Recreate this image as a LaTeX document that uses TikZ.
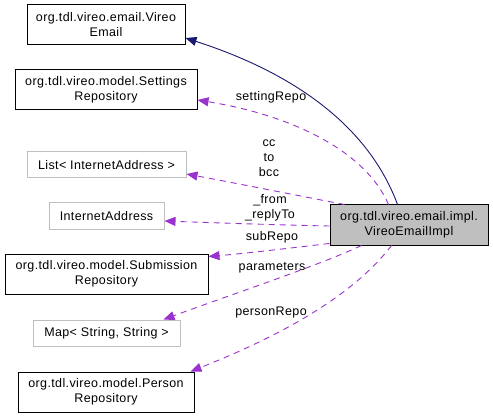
\documentclass[tikz,border=0pt]{standalone}
\usepackage{fontspec}
\setmainfont{Liberation Sans}[LetterSpace=3]
\usetikzlibrary{arrows.meta}
\definecolor{navyedge}{HTML}{191970}
\definecolor{purpleedge}{HTML}{9A32CD}
\definecolor{greyline}{HTML}{BFBFBF}
\begin{document}
\begin{tikzpicture}[x=1pt,y=-1pt,
  every node/.style={font=\fontsize{12.5}{15}\selectfont, inner sep=0pt, align=center},
  cls/.style={draw=black, line width=1pt, fill=white},
  ext/.style={draw=greyline, line width=1pt, fill=white},
  impl/.style={draw=black, line width=1pt, fill=greyline},
  inherit/.style={draw=navyedge, line width=0.9pt, -{Triangle[length=11pt,width=9pt]}, fill=none},
  use/.style={draw=purpleedge, line width=0.9pt, dash pattern=on 6pt off 5pt, -{Triangle[length=11pt,width=9pt,fill=purpleedge]}},
  lbl/.style={fill=none}]
\useasboundingbox (0,0) rectangle (493,417);

\node[cls, minimum width=158pt, minimum height=40pt] (vireo) at (106,25) {org.tdl.vireo.email.Vireo\\Email};
\node[cls, minimum width=182pt, minimum height=40pt] (settings) at (106,90) {org.tdl.vireo.model.Settings\\Repository};
\node[ext, minimum width=159pt, minimum height=26pt] (list) at (106.5,165) {List< InternetAddress >};
\node[ext, minimum width=115pt, minimum height=26pt] (inet) at (106.5,216) {InternetAddress};
\node[cls, minimum width=203pt, minimum height=40pt] (sub) at (106.5,274) {org.tdl.vireo.model.Submission\\Repository};
\node[ext, minimum width=147pt, minimum height=26pt] (map) at (106.5,333) {Map< String, String >};
\node[cls, minimum width=176pt, minimum height=40pt] (person) at (106,392) {org.tdl.vireo.model.Person\\Repository};
\node[impl, minimum width=158pt, minimum height=40pt] (impl) at (409,225) {org.tdl.vireo.email.impl.\\VireoEmailImpl};

\draw[inherit] ([xshift=68pt]impl.north west) .. controls (370,130) and (300,75) .. ([yshift=-13pt]vireo.east);
\draw[use] ([xshift=59pt]impl.north west) .. controls (365,150) and (290,115) .. ([yshift=-10pt]settings.east);
\draw[use] ([xshift=15pt]impl.north west) .. controls (300,196) and (240,184) .. ([yshift=-9pt]list.east);
\draw[use] ([yshift=-1pt]impl.west) .. controls (280,225) and (220,223) .. ([yshift=-5pt]inet.east);
\draw[use] ([yshift=2pt]impl.south west) .. controls (290,248) and (250,253) .. ([yshift=-3pt]sub.north east);
\draw[use] ([xshift=32pt]impl.south west) .. controls (320,265) and (230,295) .. ([xshift=-17pt]map.north east);
\draw[use] ([xshift=62pt]impl.south west) .. controls (350,300) and (270,340) .. ([xshift=-4pt]person.north east);

\node[lbl] (l1) at (271,97) {settingRepo};
\node[lbl] (l2) at (269,158) {cc\\to\\bcc};
\node[lbl] (l3) at (270,208) {\_from\\\_replyTo};
\node[lbl] (l4) at (272,237) {subRepo};
\node[lbl] (l5) at (272,268) {parameters};
\node[lbl] (l6) at (271,312) {personRepo};
\end{tikzpicture}
\end{document}
